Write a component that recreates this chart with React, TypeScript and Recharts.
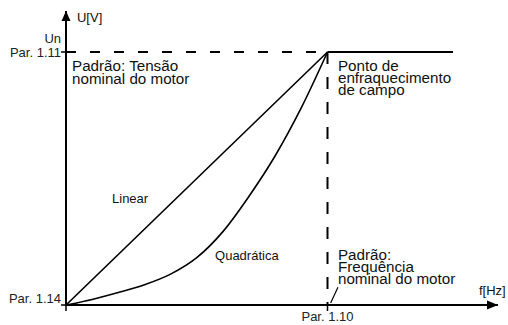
import React from 'react';
import { LineChart, Line, XAxis, YAxis, ReferenceLine, ReferenceDot } from 'recharts';

// frequency as a fraction of nominal (Par. 1.10 = 1), voltage as a fraction of Un (Par. 1.11 = 1)
const freq = [0, 0.1, 0.2, 0.3, 0.4, 0.5, 0.6, 0.7, 0.8, 0.9, 1];
const quadratic = [0, 0.022, 0.049, 0.08, 0.122, 0.187, 0.29, 0.43, 0.59, 0.78, 1];
const linearF = [0, 1];
const linearU = [0, 1];
const weakeningF = [1, 1.48];
const weakeningU = [1, 1];
const nominalLevelF = [0, 1];
const nominalLevelU = [1, 1];

const X_MAX = 1.652;
const Y_MAX = 1.162;

const quadData = freq.map((f, i) => ({ f, u: quadratic[i] }));
const linData = linearF.map((f, i) => ({ f, u: linearU[i] }));
const weakData = weakeningF.map((f, i) => ({ f, u: weakeningU[i] }));
const levelData = nominalLevelF.map((f, i) => ({ f, u: nominalLevelU[i] }));

const FONT = '"Liberation Sans", Arial, sans-serif';

const notes = [
  { f: 0.042, u: 1.119, lines: ['U[V]'], size: 13, gap: 0 },
  { f: 0.023, u: 0.923, lines: ['Padrão: Tensão', 'nominal do motor'], size: 15.2, gap: 12.2 },
  { f: 1.04, u: 0.923, lines: ['Ponto de', 'enfraquecimento', 'de campo'], size: 15.2, gap: 12 },
  { f: 0.176, u: 0.403, lines: ['Linear'], size: 13, gap: 0 },
  { f: 0.57, u: 0.178, lines: ['Quadrática'], size: 13, gap: 0 },
  { f: 1.04, u: 0.176, lines: ['Padrão:', 'Frequência', 'nominal do motor'], size: 15.2, gap: 12 },
  { f: 1.579, u: 0.04, lines: ['f[Hz]'], size: 13, gap: 0 },
];

function YTick(props: any) {
  const { x, y, payload } = props;
  if (payload.value === 1) {
    return (
      <g fontFamily={FONT} fontSize={13} fill="#222">
        <text x={x} y={y - 9} textAnchor="end">Un</text>
        <text x={x} y={y + 5} textAnchor="end">Par. 1.11</text>
      </g>
    );
  }
  return (
    <text x={x} y={y - 2} textAnchor="end" fontFamily={FONT} fontSize={13} fill="#222">
      Par. 1.14
    </text>
  );
}

function XTick(props: any) {
  const { x, y, payload } = props;
  if (payload.value !== 1) return <g />;
  return (
    <text x={x} y={y + 8} textAnchor="middle" fontFamily={FONT} fontSize={13} fill="#222">
      Par. 1.10
    </text>
  );
}

function Note({ cx, cy, note }: any) {
  return (
    <text x={cx} y={cy} fontFamily={FONT} fontSize={note.size} fill="#111">
      {note.lines.map((l: string, i: number) => (
        <tspan key={i} x={cx} y={cy + i * note.gap}>
          {l}
        </tspan>
      ))}
    </text>
  );
}

export default function App() {
  return (
    <div style={{ position: 'absolute', left: 0, top: 0, width: 508, height: 325, background: '#fff' }}>
      <LineChart width={508} height={325} margin={{ top: 11, right: 10, bottom: 0, left: 0 }}>
        <XAxis
          type="number"
          dataKey="f"
          domain={[0, X_MAX]}
          ticks={[0, 1]}
          height={20}
          tickSize={6}
          tickLine={{ stroke: '#000', strokeWidth: 1.5 }}
          axisLine={{ stroke: '#000', strokeWidth: 2 }}
          tick={<XTick />}
          allowDataOverflow
        />
        <YAxis
          type="number"
          dataKey="u"
          domain={[0, Y_MAX]}
          ticks={[0, 1]}
          width={66}
          tickSize={5}
          tickMargin={0}
          tickLine={{ stroke: '#000', strokeWidth: 1.5 }}
          axisLine={{ stroke: '#000', strokeWidth: 2 }}
          tick={<YTick />}
          allowDataOverflow
        />
        <ReferenceLine
          segment={[{ x: 1, y: 1 }, { x: 1, y: 0 }]}
          stroke="#000"
          strokeWidth={2}
          strokeDasharray="12 13"
        />
        <ReferenceLine
          segment={[{ x: 1.012, y: 0.008 }, { x: 1.04, y: 0.07 }]}
          stroke="#000"
          strokeWidth={1.2}
        />
        <Line data={levelData} dataKey="u" stroke="#000" strokeWidth={2} strokeDasharray="10 14" dot={false} isAnimationActive={false} />
        <Line data={weakData} dataKey="u" stroke="#000" strokeWidth={2} dot={false} isAnimationActive={false} />
        <Line data={linData} dataKey="u" stroke="#000" strokeWidth={1.6} dot={false} isAnimationActive={false} />
        <Line data={quadData} dataKey="u" type="monotone" stroke="#000" strokeWidth={1.6} dot={false} isAnimationActive={false} />
        <ReferenceDot
          x={0}
          y={Y_MAX}
          ifOverflow="visible"
          shape={(p: any) => <polygon points={`${p.cx},${p.cy} ${p.cx - 4.5},${p.cy + 10} ${p.cx + 4.5},${p.cy + 10}`} fill="#000" />}
        />
        <ReferenceDot
          x={X_MAX}
          y={0}
          ifOverflow="visible"
          shape={(p: any) => <polygon points={`${p.cx},${p.cy} ${p.cx - 11},${p.cy - 4.5} ${p.cx - 11},${p.cy + 4.5}`} fill="#000" />}
        />
        {notes.map((n, i) => (
          <ReferenceDot key={i} x={n.f} y={n.u} ifOverflow="visible" shape={(p: any) => <Note {...p} note={n} />} />
        ))}
      </LineChart>
    </div>
  );
}
